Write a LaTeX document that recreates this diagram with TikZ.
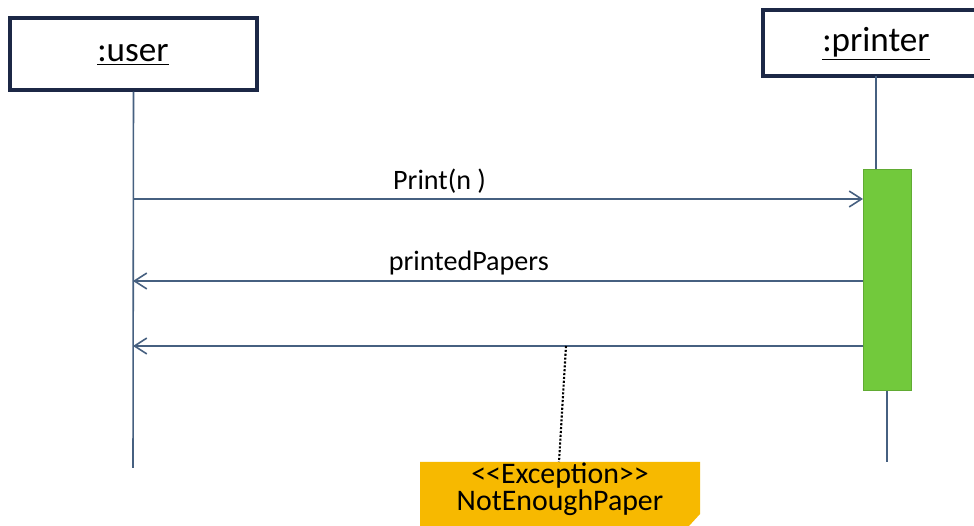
\documentclass[tikz,border=0pt]{standalone}
\usepackage{fontspec}
\setmainfont{Carlito}
\usepackage{tikz}
\usetikzlibrary{positioning,arrows.meta,calc}
\definecolor{boxline}{RGB}{28,40,70}
\definecolor{msgline}{RGB}{70,96,128}
\definecolor{actgreen}{RGB}{114,201,60}
\definecolor{notegold}{RGB}{247,185,0}

\begin{document}
\begin{tikzpicture}[x=0.02cm, y=-0.02cm, >={Straight Barb[length=7pt,width=9pt]}, semithick]
	\tikzstyle{objbox}=[draw=boxline, line width=1.8pt, fill=white, inner sep=0pt]
	\tikzstyle{lifeline}=[draw=msgline, line width=0.9pt]
	\tikzstyle{msg}=[->, draw=msgline, line width=0.9pt]
	\tikzstyle{msglabel}=[font=\fontsize{16}{18}\selectfont, inner sep=0pt]

	\clip (0,0) rectangle (974,526);
	\fill[white] (0,0) rectangle (974,526);

	% objects
	\node[objbox, minimum width=4.94cm, minimum height=1.44cm] (user) at (133.5,54) {};
	\node[font=\fontsize{20}{22}\selectfont] (userlbl) at (133,55) {\underline{:user}};
	\node[objbox, minimum width=4.5cm, minimum height=1.32cm] (printer) at (875.5,43) {};
	\node[font=\fontsize{20}{22}\selectfont] (printerlbl) at (876,44) {\underline{:printer}};

	% activation
	\node[fill=actgreen, draw=actgreen!85!black, line width=0.4pt, minimum width=0.96cm, minimum height=4.42cm, inner sep=0pt] (act) at (887,280) {};

	% lifelines
	\coordinate (uend) at (133,468);
	\coordinate (pend) at (887,462);
	\draw[lifeline] (user.south) -- (uend);
	\draw[lifeline] (876,76) -- (876,169);
	\draw[lifeline] (act.south) -- (pend);

	% messages
	\coordinate (m1u) at (133,199); \coordinate (m1p) at (863,199);
	\coordinate (m2u) at (133,281); \coordinate (m2p) at (863,281);
	\coordinate (m3u) at (133,346); \coordinate (m3p) at (863,346);
	\draw[msg] (m1u) -- (m1p) node[msglabel, pos=0.42, above=3pt] (printlbl) {Print(n )};
	\draw[msg] (m2p) -- (m2u) node[msglabel, pos=0.54, above=3pt] (paperslbl) {printedPapers};
	\draw[msg] (m3p) -- (m3u);

	% exception note
	\coordinate (anchor) at (566,346);
	\draw[fill=notegold, draw=none] (420,462) -- (700,462) -- (700,514) -- (689,526) -- (420,526) -- cycle;
	\node[font=\fontsize{17}{14.5}\selectfont, align=center, inner sep=0pt] (note) at (560,489) {<{}<Exception>{}>\\NotEnoughPaper};
	\coordinate (notetop) at (559,462);
	\draw[black, line width=1.2pt, densely dotted] (anchor) -- (notetop);
\end{tikzpicture}
\end{document}
